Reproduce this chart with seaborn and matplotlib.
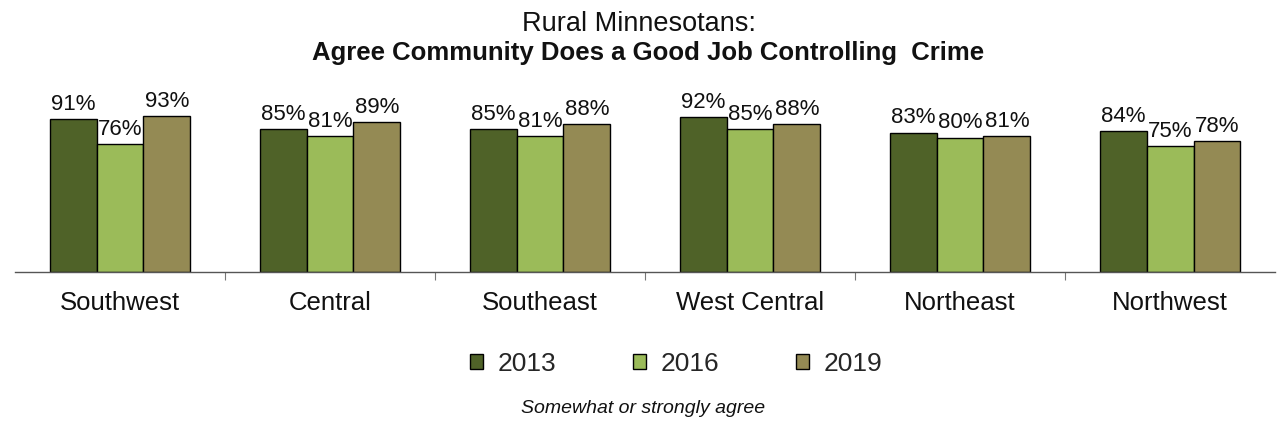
import matplotlib
matplotlib.use("Agg")
import matplotlib.pyplot as plt
import seaborn as sns
import pandas as pd

regions = ["Southwest", "Central", "Southeast", "West Central", "Northeast", "Northwest"]
years = ["2013", "2016", "2019"]
values_2013 = [91, 85, 85, 92, 83, 84]
values_2016 = [76, 81, 81, 85, 80, 75]
values_2019 = [93, 89, 88, 88, 81, 78]
colors = ["#4F6228", "#9BBB59", "#948A54"]

df = pd.DataFrame({
    "Region": regions * 3,
    "Year": [y for y in years for _ in regions],
    "Value": values_2013 + values_2016 + values_2019,
})

sns.set_theme(style="white")
plt.rcParams["font.family"] = ["Liberation Sans", "DejaVu Sans"]

fig = plt.figure(figsize=(12.78, 4.26), dpi=100)
ax = fig.add_axes([0.0117, 0.3615, 0.986, 0.3944])

sns.barplot(data=df, x="Region", y="Value", hue="Year", order=regions,
            hue_order=years, palette=colors, width=0.67, gap=0,
            edgecolor="black", linewidth=1.0, saturation=1, ax=ax,
            legend=True)

for cont in ax.containers:
    ax.bar_label(cont, labels=[f"{v:.0f}%" for v in cont.datavalues],
                 padding=3, fontsize=16, color="#111111")

ax.set_ylim(0, 100)
ax.set_xlim(-0.5, len(regions) - 0.5)
ax.set_xlabel("")
ax.set_ylabel("")
ax.set_yticks([])
for side in ["left", "right", "top"]:
    ax.spines[side].set_visible(False)
ax.spines["bottom"].set_color("#555555")
ax.spines["bottom"].set_linewidth(1.0)

ax.tick_params(axis="x", which="major", length=0, labelsize=18.5, pad=14,
               labelcolor="#111111")
ax.set_xticks([i + 0.5 for i in range(len(regions) - 1)], minor=True)
ax.tick_params(axis="x", which="minor", length=6, width=0.8, color="#777777",
               direction="out", bottom=True)

handles, labels = ax.get_legend_handles_labels()
ax.legend_.remove()
fig.legend(handles, labels, loc="center", bbox_to_anchor=(0.529, 0.146),
           ncol=3, frameon=False, fontsize=19, handlelength=0.5,
           handleheight=0.5, handletextpad=0.55, columnspacing=2.9)

fig.text(0.5, 0.943, "Rural Minnesotans:", ha="center", va="center",
         fontsize=19.5, color="#111111")
fig.text(0.507, 0.876, "Agree Community Does a Good Job Controlling  Crime",
         ha="center", va="center", fontsize=18.5, fontweight="bold",
         color="#111111")
fig.text(0.503, 0.042, "Somewhat or strongly agree", ha="center",
         va="center", fontsize=14, style="italic", color="#111111")

fig.savefig("out.png", dpi=100)
